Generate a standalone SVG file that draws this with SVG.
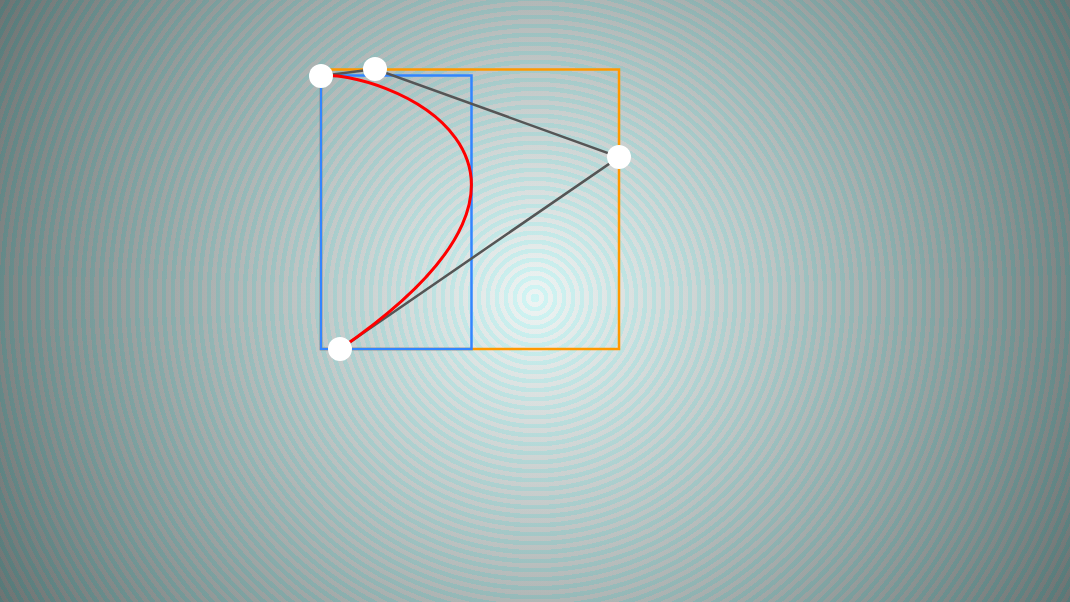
<svg xmlns="http://www.w3.org/2000/svg" width="1070" height="602" viewBox="0 0 1070 602">
  <defs>
    <radialGradient id="bg" gradientUnits="userSpaceOnUse" cx="535" cy="298" r="640">
      <stop offset="0" stop-color="#f6fffe"/>
      <stop offset="0.35" stop-color="#c4cccb"/>
      <stop offset="0.7" stop-color="#8c9594"/>
      <stop offset="1" stop-color="#5e6665"/>
    </radialGradient>
    <radialGradient id="rings" gradientUnits="userSpaceOnUse" cx="535" cy="298" r="9" spreadMethod="repeat">
      <stop offset="0" stop-color="#00c0c0" stop-opacity="0.15"/>
      <stop offset="0.5" stop-color="#00c0c0" stop-opacity="0.15"/>
      <stop offset="0.5" stop-color="#b0a8a8" stop-opacity="0.12"/>
      <stop offset="1" stop-color="#b0a8a8" stop-opacity="0.12"/>
    </radialGradient>
    <style>
      .box { fill: none; stroke-width: 2.5; }
      .hull { fill: none; stroke: #555555; stroke-width: 2.5; }
      .pt { fill: #ffffff; }
    </style>
  </defs>
  <rect width="1070" height="602" fill="url(#bg)"/>
  <rect width="1070" height="602" fill="url(#rings)"/>
  <g id="connectors">
    <rect id="control-bounds" class="box" x="321" y="69.5" width="298" height="279.5" stroke="#ff9900"/>
    <rect id="curve-bounds" class="box" x="321" y="75.5" width="150.5" height="273.5" stroke="#3385ff"/>
    <polyline id="hull" class="hull" points="321,76 375,69 619,157 340,349"/>
    <path id="curve" d="M321,76 C375,69 619,157 340,349" fill="none" stroke="#ff0000" stroke-width="3"/>
  </g>
  <g id="p0"><circle class="pt" cx="321" cy="76" r="12"/></g>
  <g id="p1"><circle class="pt" cx="375" cy="69" r="12"/></g>
  <g id="p2"><circle class="pt" cx="619" cy="157" r="12"/></g>
  <g id="p3"><circle class="pt" cx="340" cy="349" r="12"/></g>
</svg>
